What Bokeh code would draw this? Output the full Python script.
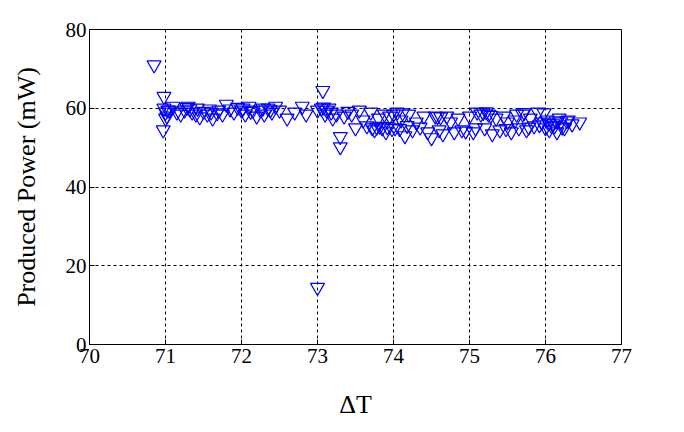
from bokeh.plotting import figure
from bokeh.models import Range1d, FixedTicker
from bokeh.embed import file_html
from bokeh.resources import INLINE

delta_t = [70.85, 70.98, 70.97, 70.98, 71.0, 71.02, 71.0, 71.05, 71.1, 71.2,
           71.3, 71.32, 71.35, 71.4, 71.45, 71.5, 71.55, 71.6, 71.62, 71.7,
           71.75, 71.8, 71.85, 71.9, 72.0, 72.05, 72.1, 72.15, 72.2, 72.25,
           72.3, 72.35, 72.4, 72.45, 72.6, 72.7, 72.8, 72.85, 73.0, 73.0,
           73.05, 73.07, 73.1, 73.12, 73.15, 73.2, 73.25, 73.3, 73.3, 73.35,
           73.45, 73.5, 73.55, 73.6, 73.7, 73.72, 73.75, 73.8, 73.85, 73.9,
           73.95, 74.0, 74.02, 74.05, 74.1, 74.15, 74.2, 74.25, 74.3, 74.4,
           74.45, 74.5, 74.55, 74.6, 74.65, 74.7, 74.75, 74.8, 74.85, 74.9,
           75.0, 75.05, 75.1, 75.15, 75.2, 75.25, 75.3, 75.35, 75.4, 75.45,
           75.5, 75.55, 75.6, 75.65, 75.7, 75.75, 75.8, 75.85, 75.9, 75.95,
           76.0, 76.02, 76.05, 76.1, 76.12, 76.15, 76.2, 76.25, 76.3, 76.35,
           76.45, 71.15, 71.25, 71.42, 71.68, 71.95, 72.12, 72.28, 72.5, 73.18,
           73.4, 73.65, 73.78, 73.88, 74.08, 74.12, 74.35, 74.62, 74.95, 75.08,
           75.28, 75.48, 75.62, 75.78, 75.98, 76.08, 76.18, 76.28, 73.92, 74.18,
           71.03, 71.28, 71.58, 72.02, 72.38, 73.08, 73.82, 73.98, 74.58, 75.18,
           75.22, 75.72, 75.92, 76.04, 76.14, 76.22]
power = [71.0, 63.0, 54.5, 60.0, 59.0, 58.0, 57.5, 59.5, 60.5, 58.5,
         60.5, 59.8, 59.0, 58.5, 57.8, 59.2, 58.5, 59.0, 57.5, 59.5,
         58.5, 61.0, 59.8, 59.0, 59.5, 58.5, 60.5, 59.5, 58.0, 59.5,
         58.5, 60.0, 59.0, 60.5, 57.5, 59.0, 60.5, 58.5, 59.5, 14.5,
         60.0, 64.5, 58.5, 59.5, 60.0, 57.5, 58.5, 52.8, 50.2, 58.0,
         58.5, 55.0, 59.5, 57.0, 59.0, 55.0, 54.5, 57.5, 55.0, 54.0,
         58.0, 58.5, 55.0, 59.0, 57.0, 53.0, 58.5, 54.5, 56.5, 58.0,
         54.0, 52.5, 58.0, 54.5, 53.5, 58.0, 56.5, 54.0, 57.5, 54.5,
         58.0, 54.0, 59.0, 58.5, 55.0, 58.5, 53.5, 57.5, 54.5, 58.0,
         56.5, 54.0, 57.0, 55.0, 58.5, 54.5, 57.5, 55.5, 59.0, 56.5,
         55.0, 57.0, 54.5, 56.0, 55.5, 54.0, 56.5, 55.0, 57.0, 56.0,
         56.5, 59.0, 59.5, 60.0, 58.8, 60.2, 59.2, 60.0, 59.5, 59.0,
         59.2, 55.5, 55.2, 58.5, 54.8, 58.8, 55.2, 57.8, 54.2, 55.0,
         58.2, 54.8, 58.5, 55.2, 58.8, 55.5, 57.5, 56.8, 55.3, 55.6,
         59.5, 60.2, 59.8, 60.0, 59.6, 60.3, 55.4, 54.8, 57.9, 58.9,
         59.1, 58.9, 55.8, 56.2, 56.8, 55.2]

x_ticks = [70, 71, 72, 73, 74, 75, 76, 77]
y_ticks = [0, 20, 40, 60, 80]

FONT = "Liberation Serif"

p = figure(width=684, height=432, output_backend="svg", toolbar_location=None,
           x_range=Range1d(70, 77), y_range=Range1d(0, 80),
           min_border_left=89, min_border_right=63, min_border_top=29,
           min_border_bottom=88)

p.scatter(delta_t, power, marker="inverted_triangle", size=14,
          fill_color=None, line_color="#0000ff", line_width=1.2)

p.xaxis.ticker = FixedTicker(ticks=x_ticks)
p.yaxis.ticker = FixedTicker(ticks=y_ticks)
p.xaxis.axis_label = "ΔT"
p.yaxis.axis_label = "Produced Power (mW)"
for ax in (p.xaxis[0], p.yaxis[0]):
    ax.axis_label_text_font = FONT
    ax.axis_label_text_font_style = "normal"
    ax.axis_label_text_font_size = "26px"
    ax.axis_label_text_color = "black"
    ax.major_label_text_font = FONT
    ax.major_label_text_font_size = "21px"
    ax.major_label_text_color = "black"
    ax.major_tick_in = 5
    ax.major_tick_out = 0
    ax.minor_tick_in = 0
    ax.minor_tick_out = 0
    ax.axis_line_color = "black"
    ax.major_tick_line_color = "black"
p.xaxis.major_label_standoff = 4
p.xaxis.axis_label_standoff = 24
p.yaxis.major_label_standoff = 3
p.yaxis.axis_label_standoff = 22

p.xgrid.grid_line_color = "black"
p.ygrid.grid_line_color = "black"
p.xgrid.grid_line_dash = "3 3"
p.ygrid.grid_line_dash = "3 3"
p.xgrid.grid_line_alpha = 1
p.ygrid.grid_line_alpha = 1

p.outline_line_color = "black"
p.outline_line_alpha = 1
p.outline_line_width = 1
p.background_fill_color = "white"
p.border_fill_color = "white"

open("out.html", "w").write(file_html(p, INLINE))
